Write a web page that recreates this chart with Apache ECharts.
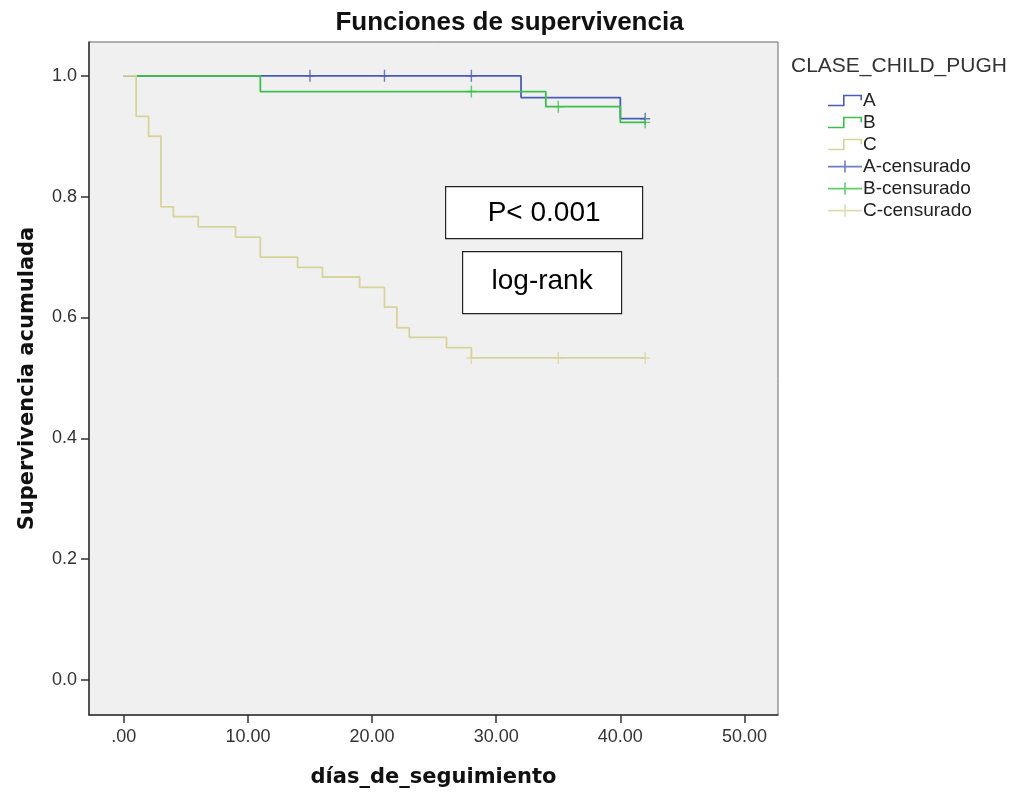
<!DOCTYPE html>
<html>
<head>
<meta charset="utf-8">
<title>Funciones de supervivencia</title>
<script src="https://cdn.jsdelivr.net/npm/echarts@6/dist/echarts.min.js"></script>
<style>
  html, body { margin: 0; padding: 0; background: #fff; }
  #chart { width: 1019px; height: 793px; }
</style>
</head>
<body>
<div id="chart"></div>
<script>
// Kaplan-Meier steps (tiempo, supervivencia)
const aTimes = [0, 32, 40, 42]
const aSurv = [1.0, 0.964, 0.929, 0.929]
const bTimes = [0, 11, 34, 40, 42]
const bSurv = [1.0, 0.974, 0.949, 0.923, 0.923]
const cTimes = [0, 1, 2, 3, 4, 6, 9, 11, 14, 16, 19, 21, 22, 23, 26, 28, 42]
const cSurv = [1.0, 0.933, 0.9, 0.783, 0.767, 0.75, 0.733, 0.7, 0.683, 0.667, 0.65, 0.617, 0.583, 0.567, 0.55, 0.533, 0.533]

// censurados
const aCensTimes = [15, 21, 28, 42]
const aCensSurv = [1.0, 1.0, 1.0, 0.929]
const bCensTimes = [28, 35, 42]
const bCensSurv = [0.974, 0.949, 0.923]
const cCensTimes = [28, 35, 42]
const cCensSurv = [0.533, 0.533, 0.533]

const xTicks = [0, 10, 20, 30, 40, 50]
const yTicks = [0, 0.2, 0.4, 0.6, 0.8, 1.0]

const colA = '#4a5cb5'
const colB = '#3cbf4c'
const colC = '#d8d39a'

const zip = (xs, ys) => xs.map((x, i) => [x, ys[i]])

// iconos de la leyenda (rellenos, simulan trazo)
const stepIcon = 'path://M0,10.5 L15,10.5 L15,0.5 L34,0.5 L34,6 L32.4,6 L32.4,2.1 L16.6,2.1 L16.6,12.1 L0,12.1 Z'
const plusIcon = 'path://M0,5.3 L16.2,5.3 L16.2,0 L17.8,0 L17.8,5.3 L34,5.3 L34,6.9 L17.8,6.9 L17.8,12 L16.2,12 L16.2,6.9 L0,6.9 Z'
const censSymbol = 'path://M0,5.3 L4.3,5.3 L4.3,0 L5.7,0 L5.7,5.3 L10,5.3 L10,6.7 L5.7,6.7 L5.7,12 L4.3,12 L4.3,6.7 L0,6.7 Z'

const chart = echarts.init(document.getElementById('chart'))

const stepSeries = (name, xs, ys, color) => ({
  name,
  type: 'line',
  step: 'end',
  symbol: 'none',
  color,
  lineStyle: { color, width: 1.8 },
  data: zip(xs, ys)
})

const censSeries = (name, xs, ys, color) => ({
  name,
  type: 'scatter',
  symbol: censSymbol,
  symbolSize: [10, 12],
  color,
  itemStyle: { color },
  data: zip(xs, ys)
})

const axisFont = 'Arial, "Liberation Sans"'

const option = {
  backgroundColor: '#fff',
  animation: false,
  title: {
    text: 'Funciones de supervivencia',
    left: 'center',
    top: 5,
    textStyle: { fontFamily: axisFont, fontSize: 26, fontWeight: 'bold', color: '#111' }
  },
  grid: {
    left: 89, right: 241, top: 42, bottom: 78,
    outerBoundsMode: 'none',
    containLabel: false,
    show: true,
    backgroundColor: '#f0f0f0',
    borderColor: '#666',
    borderWidth: 1
  },
  legend: {
    orient: 'vertical',
    left: 823,
    top: 86,
    itemWidth: 34,
    itemHeight: 12,
    itemGap: 3,
    textStyle: { fontFamily: axisFont, fontSize: 19, color: '#222', padding: [0, 0, 0, -4] },
    data: [
      { name: 'A', icon: stepIcon },
      { name: 'B', icon: stepIcon },
      { name: 'C', icon: stepIcon },
      { name: 'A-censurado', icon: plusIcon },
      { name: 'B-censurado', icon: plusIcon },
      { name: 'C-censurado', icon: plusIcon }
    ]
  },
  xAxis: {
    type: 'value',
    min: -2.8,
    max: 52.7,
    name: 'días_de_seguimiento',
    nameLocation: 'middle',
    nameGap: 52,
    nameTextStyle: { fontFamily: '"DejaVu Sans"', fontSize: 21, fontWeight: 'bold', color: '#111' },
    axisLine: { show: true, onZero: false, lineStyle: { color: '#333', width: 1.5 } },
    axisTick: { show: true, length: 8, customValues: xTicks, lineStyle: { color: '#333', width: 1.5 } },
    axisLabel: {
      customValues: xTicks,
      margin: 13,
      fontFamily: axisFont,
      fontSize: 18,
      color: '#333',
      formatter: v => (v === 0 ? '.00' : v.toFixed(2))
    },
    splitLine: { show: false }
  },
  yAxis: {
    type: 'value',
    min: -0.058,
    max: 1.056,
    name: 'Supervivencia acumulada',
    nameLocation: 'middle',
    nameGap: 51,
    nameTextStyle: { fontFamily: '"DejaVu Sans"', fontSize: 21, fontWeight: 'bold', color: '#111' },
    axisLine: { show: true, onZero: false, lineStyle: { color: '#333', width: 1.5 } },
    axisTick: { show: true, length: 8, customValues: yTicks, lineStyle: { color: '#333', width: 1.5 } },
    axisLabel: {
      customValues: yTicks,
      margin: 12,
      fontFamily: axisFont,
      fontSize: 18,
      color: '#333',
      formatter: v => v.toFixed(1)
    },
    splitLine: { show: false }
  },
  graphic: [
    {
      type: 'text',
      left: 791,
      top: 56,
      style: { text: 'CLASE_CHILD_PUGH', font: '21px Arial, "Liberation Sans"', fill: '#333' }
    },
    {
      type: 'group',
      left: 445,
      top: 186,
      children: [
        { type: 'rect', shape: { x: 0, y: 0, width: 197, height: 52 }, style: { fill: '#fff', stroke: '#222', lineWidth: 1.2 } },
        { type: 'text', x: 98.5, y: 27, style: { text: 'P< 0.001', font: '28px Arial, "Liberation Sans"', fill: '#000', align: 'center', verticalAlign: 'middle' } }
      ]
    },
    {
      type: 'group',
      left: 462,
      top: 251,
      children: [
        { type: 'rect', shape: { x: 0, y: 0, width: 159, height: 62 }, style: { fill: '#fff', stroke: '#222', lineWidth: 1.2 } },
        { type: 'text', x: 79.5, y: 30, style: { text: 'log-rank', font: '28px Arial, "Liberation Sans"', fill: '#000', align: 'center', verticalAlign: 'middle' } }
      ]
    }
  ],
  series: [
    stepSeries('A', aTimes, aSurv, colA),
    stepSeries('B', bTimes, bSurv, colB),
    stepSeries('C', cTimes, cSurv, colC),
    censSeries('A-censurado', aCensTimes, aCensSurv, colA),
    censSeries('B-censurado', bCensTimes, bCensSurv, colB),
    censSeries('C-censurado', cCensTimes, cCensSurv, colC)
  ]
}

chart.setOption(option)
</script>
</body>
</html>
